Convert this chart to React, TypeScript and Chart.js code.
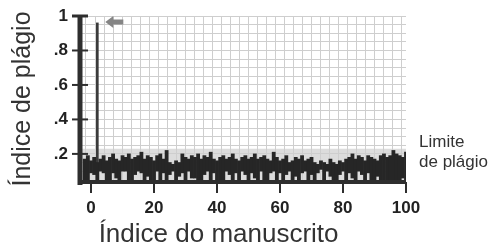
import { useEffect, useRef } from 'react';
import { Chart, registerables } from 'chart.js';

Chart.register(...registerables);

// ---- Data ----
const X_START = -2; // first manuscript index shown
const highs = [
  0.17, 0.19, 0.16, 0.18, 0.15, 0.17, 0.19, 0.16, 0.18, 0.20,
  0.17, 0.16, 0.19, 0.18, 0.20, 0.17, 0.18, 0.19, 0.21, 0.17,
  0.19, 0.18, 0.16, 0.19, 0.20, 0.17, 0.22, 0.15, 0.14, 0.16,
  0.15, 0.20, 0.18, 0.17, 0.19, 0.18, 0.20, 0.17, 0.19, 0.18,
  0.21, 0.17, 0.16, 0.18, 0.19, 0.17, 0.18, 0.20, 0.17, 0.16,
  0.18, 0.19, 0.17, 0.18, 0.20, 0.17, 0.18, 0.19, 0.17, 0.16,
  0.21, 0.18, 0.16, 0.17, 0.19, 0.15, 0.16, 0.18, 0.17, 0.19,
  0.16, 0.17, 0.18, 0.15, 0.14, 0.16, 0.15, 0.14, 0.17, 0.15,
  0.14, 0.16, 0.15, 0.17, 0.18, 0.20, 0.17, 0.19, 0.18, 0.16,
  0.19, 0.18, 0.17, 0.16, 0.19, 0.20, 0.18, 0.19, 0.22, 0.20,
  0.19, 0.18, 0.21,
];
const lows = [
  0.02, 0.02, 0.09, 0.08, 0.02, 0.10, 0.09, 0.03, 0.02, 0.09,
  0.06, 0.02, 0.10, 0.10, 0.04, 0.02, 0.08, 0.10, 0.09, 0.03,
  0.07, 0.02, 0.02, 0.10, 0.05, 0.09, 0.02, 0.08, 0.10, 0.02,
  0.07, 0.09, 0.02, 0.10, 0.06, 0.06, 0.02, 0.03, 0.08, 0.10,
  0.02, 0.09, 0.05, 0.02, 0.02, 0.10, 0.08, 0.03, 0.09, 0.02,
  0.10, 0.08, 0.02, 0.09, 0.06, 0.03, 0.10, 0.02, 0.02, 0.09,
  0.10, 0.04, 0.09, 0.02, 0.08, 0.10, 0.03, 0.07, 0.02, 0.09,
  0.10, 0.02, 0.08, 0.05, 0.09, 0.11, 0.02, 0.10, 0.07, 0.02,
  0.03, 0.08, 0.10, 0.02, 0.09, 0.06, 0.02, 0.10, 0.08, 0.03,
  0.09, 0.02, 0.02, 0.07, 0.02, 0.02, 0.02, 0.05, 0.02, 0.02,
  0.02, 0.06, 0.02,
];
const spikeX = [2];
const spikeY = [0.96];
const plagiarismLimit = 0.23;
const xTickLabels = [0, 20, 40, 60, 80, 100];
const yTickLabels = [0.2, 0.4, 0.6, 0.8, 1];
const xTitle = 'Índice do manuscrito';
const yTitle = 'Índice de plágio';
const limitLabel = ['Limite', 'de plágio'];

const X_MIN = -3.5;
const X_MAX = 100;
const Y_MIN = 0.037;
const Y_MAX = 1;
const FONT = '"Liberation Sans", Arial, sans-serif';

const isNear = (v: number, list: number[]) => list.some((t) => Math.abs(t - v) < 1e-6);

export default function App() {
  const ref = useRef<HTMLCanvasElement | null>(null);

  useEffect(() => {
    if (!ref.current) return;

    const decor = {
      id: 'decor',
      beforeDraw(chart: any) {
        const { ctx, chartArea: a, scales } = chart;
        const y = scales.y;
        ctx.save();
        ctx.fillStyle = '#ffffff';
        ctx.fillRect(0, 0, chart.width, chart.height);
        const yl = y.getPixelForValue(plagiarismLimit);
        ctx.fillStyle = '#dcdcdc';
        ctx.fillRect(a.left, yl, a.right - a.left, a.bottom - yl);
        ctx.restore();
      },
      afterDraw(chart: any) {
        const { ctx, chartArea: a, scales } = chart;
        const x = scales.x;
        const y = scales.y;
        ctx.save();
        ctx.strokeStyle = '#2e2e2e';
        ctx.lineCap = 'butt';
        // y axis line
        ctx.lineWidth = 5;
        ctx.beginPath();
        ctx.moveTo(a.left, y.getPixelForValue(Y_MAX) - 1);
        ctx.lineTo(a.left, a.bottom + 3);
        ctx.stroke();
        // y ticks crossing the axis
        yTickLabels.forEach((v) => {
          const py = y.getPixelForValue(v);
          ctx.lineWidth = v === 1 ? 3 : 2;
          ctx.beginPath();
          ctx.moveTo(a.left - 8, py);
          ctx.lineTo(a.left + 8, py);
          ctx.stroke();
        });
        // x axis line
        ctx.lineWidth = 4;
        ctx.beginPath();
        ctx.moveTo(a.left, a.bottom);
        ctx.lineTo(a.right, a.bottom);
        ctx.stroke();
        // x ticks
        ctx.lineWidth = 2;
        xTickLabels.forEach((v) => {
          const px = x.getPixelForValue(v);
          ctx.beginPath();
          ctx.moveTo(px, a.bottom);
          ctx.lineTo(px, a.bottom + 11);
          ctx.stroke();
        });
        // arrow pointing at the spike
        const tipX = x.getPixelForValue(spikeX[0]) + 8;
        const tipY = y.getPixelForValue(spikeY[0]) - 1;
        ctx.fillStyle = '#858585';
        ctx.beginPath();
        ctx.moveTo(tipX, tipY);
        ctx.lineTo(tipX + 8, tipY - 6);
        ctx.lineTo(tipX + 8, tipY - 2.5);
        ctx.lineTo(tipX + 18, tipY - 2.5);
        ctx.lineTo(tipX + 18, tipY + 2.5);
        ctx.lineTo(tipX + 8, tipY + 2.5);
        ctx.lineTo(tipX + 8, tipY + 6);
        ctx.closePath();
        ctx.fill();
        // limit label
        const yl = y.getPixelForValue(plagiarismLimit);
        ctx.fillStyle = '#333333';
        ctx.font = `17px ${FONT}`;
        ctx.textAlign = 'left';
        ctx.textBaseline = 'middle';
        ctx.fillText(limitLabel[0], a.right + 13, yl - 6);
        ctx.fillText(limitLabel[1], a.right + 13, yl + 14);
        // x title
        ctx.font = `26px ${FONT}`;
        ctx.textAlign = 'center';
        ctx.textBaseline = 'alphabetic';
        ctx.fillText(xTitle, x.getPixelForValue(40.5), chart.height - 6);
        ctx.restore();
      },
    };

    const chart = new Chart(ref.current, {
      type: 'bar',
      data: {
        datasets: [
          {
            label: 'Índice',
            data: highs.map((h, i) => ({ x: X_START + i, y: [lows[i], h] })) as any,
            backgroundColor: '#262626',
            borderWidth: 0,
            barPercentage: 1,
            categoryPercentage: 1,
            grouped: false,
          } as any,
          {
            label: 'Pico',
            data: spikeX.map((sx, i) => ({ x: sx, y: [Y_MIN, spikeY[i]] })) as any,
            backgroundColor: '#3a3a3a',
            borderWidth: 0,
            barThickness: 2,
            grouped: false,
          } as any,
        ],
      },
      options: {
        animation: false,
        responsive: true,
        maintainAspectRatio: false,
        layout: { padding: { left: 0, top: 16, right: 91, bottom: 0 } },
        plugins: { legend: { display: false }, tooltip: { enabled: false } },
        scales: {
          x: {
            type: 'linear',
            min: X_MIN,
            max: X_MAX,
            offset: false,
            border: { display: false },
            grid: { color: '#cecece', lineWidth: 1, drawTicks: false },
            ticks: {
              stepSize: 20 / 7,
              autoSkip: false,
              maxRotation: 0,
              padding: 16,
              color: '#222222',
              font: { family: FONT, size: 17, weight: 'bold' },
              callback: (v: any) => (isNear(Number(v), xTickLabels) ? String(Math.round(Number(v))) : ''),
            },
            afterFit: (s: any) => {
              s.height = 66;
            },
          },
          y: {
            type: 'linear',
            min: Y_MIN,
            max: Y_MAX,
            border: { display: false },
            grid: { color: '#cecece', lineWidth: 1, drawTicks: true, tickLength: 10, tickColor: 'rgba(0,0,0,0)' },
            ticks: {
              stepSize: 0.05,
              autoSkip: false,
              padding: 2,
              color: '#222222',
              font: { family: FONT, size: 17, weight: 'bold' },
              callback: (v: any) => {
                const n = Number(v);
                if (!isNear(n, yTickLabels)) return '';
                return n >= 0.999 ? '1' : '.' + Math.round(n * 10);
              },
            },
            title: {
              display: true,
              text: yTitle,
              color: '#333333',
              font: { family: FONT, size: 25 },
              padding: { top: 8, bottom: 0 },
            },
            afterFit: (s: any) => {
              s.width = 80;
            },
          },
        },
      } as any,
      plugins: [decor],
    });

    return () => chart.destroy();
  }, []);

  return (
    <div style={{ position: 'fixed', left: 0, top: 0, width: 497, height: 248, background: '#fff' }}>
      <canvas ref={ref} />
    </div>
  );
}
